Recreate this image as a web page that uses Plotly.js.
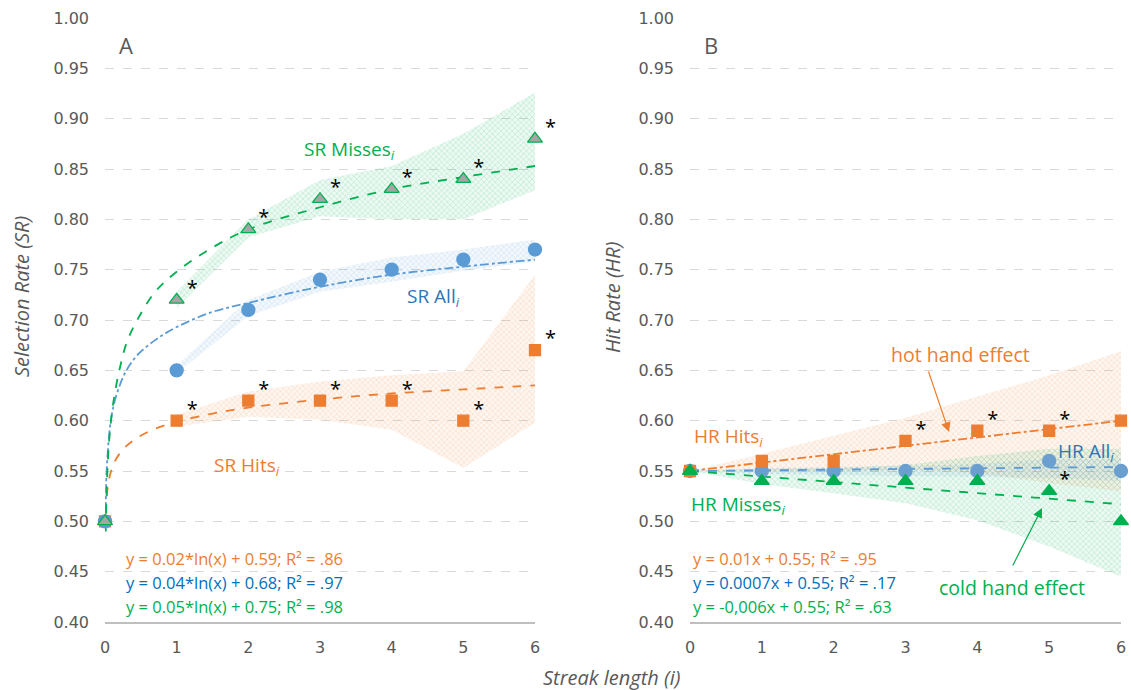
<!DOCTYPE html>
<html>
<head>
<meta charset="utf-8">
<script src="https://cdn.plot.ly/plotly-3.0.1.min.js"></script>
<style>html,body{margin:0;padding:0;background:#fff;}#chart{width:1131px;height:690px;}</style>
</head>
<body>
<div id="chart"></div>
<script>
// ---------- data ----------
const streak = [0, 1, 2, 3, 4, 5, 6];
const xTickLabels = ['0', '1', '2', '3', '4', '5', '6'];

// Panel A : selection rates
const srHits   = [0.50, 0.60, 0.62, 0.62, 0.62, 0.60, 0.67];
const srAll    = [0.50, 0.65, 0.71, 0.74, 0.75, 0.76, 0.77];
const srMisses = [0.50, 0.72, 0.79, 0.82, 0.83, 0.84, 0.88];
const sigSrHits   = [false, true, true, true, true, true, true];
const sigSrMisses = [false, true, true, true, true, true, true];

// Panel A : shaded bands (x = 1..6)
const bandXA = [1, 2, 3, 4, 5, 6];
const srHitsHi   = [0.606, 0.629, 0.639, 0.645, 0.649, 0.745];
const srHitsLo   = [0.594, 0.604, 0.601, 0.591, 0.553, 0.598];
const srAllHi    = [0.655, 0.720, 0.748, 0.762, 0.770, 0.780];
const srAllLo    = [0.647, 0.704, 0.728, 0.738, 0.749, 0.758];
const srMissesHi = [0.728, 0.800, 0.839, 0.853, 0.885, 0.926];
const srMissesLo = [0.712, 0.782, 0.803, 0.800, 0.800, 0.829];

// Panel A : logarithmic trend lines
const trendXA = [0.01, 0.02, 0.04, 0.07, 0.12, 0.2, 0.3, 0.45, 0.7, 1, 1.5, 2, 3, 4, 5, 6];
const trendSrMisses = [0.49, 0.52, 0.56, 0.59, 0.62, 0.65, 0.677, 0.70, 0.728, 0.748, 0.772, 0.79, 0.812, 0.83, 0.842, 0.853];
const trendSrAll    = [0.51, 0.545, 0.57, 0.594, 0.615, 0.634, 0.65, 0.665, 0.68, 0.693, 0.708, 0.717, 0.733, 0.745, 0.753, 0.76];
const trendSrHits   = [0.507, 0.521, 0.535, 0.546, 0.557, 0.567, 0.575, 0.583, 0.592, 0.599, 0.607, 0.613, 0.621, 0.627, 0.631, 0.635];

// Panel B : hit rates
const hrHits   = [0.55, 0.56, 0.56, 0.58, 0.59, 0.59, 0.60];
const hrAll    = [0.55, 0.55, 0.55, 0.55, 0.55, 0.56, 0.55];
const hrMisses = [0.55, 0.54, 0.54, 0.54, 0.54, 0.53, 0.50];
const sigHrHits   = [false, false, false, true, true, true, true];
const sigHrMisses = [false, false, false, false, false, true, false];

// Panel B : shaded bands (x = 0..6)
const hrHitsHi   = [0.55, 0.567, 0.585, 0.603, 0.624, 0.645, 0.669];
const hrHitsLo   = [0.55, 0.549, 0.549, 0.551, 0.548, 0.538, 0.530];
const hrAllHi    = [0.55, 0.553, 0.554, 0.555, 0.557, 0.562, 0.562];
const hrAllLo    = [0.55, 0.547, 0.546, 0.545, 0.544, 0.543, 0.540];
const hrMissesHi = [0.55, 0.552, 0.553, 0.556, 0.565, 0.572, 0.572];
const hrMissesLo = [0.55, 0.537, 0.528, 0.518, 0.501, 0.475, 0.445];

// Panel B : linear trend lines (end points)
const trendXB = [0, 6];
const trendHrHits   = [0.55, 0.600];
const trendHrAll    = [0.55, 0.554];
const trendHrMisses = [0.55, 0.517];

// ---------- styling ----------
const ORANGE = '#ED7D31', BLUE = '#5B9BD5', GREEN = '#00B050';
const TXT = '#595959';
const FONT = "'Open Sans', 'Noto Sans', sans-serif";
const TICKFONT = "'DejaVu Sans', sans-serif";
const W = 1131, H = 690;

function band(xs, hi, lo, rgb, xa, ya) {
  return {
    x: xs.concat(xs.slice().reverse()),
    y: hi.concat(lo.slice().reverse()),
    xaxis: xa, yaxis: ya,
    type: 'scatter', mode: 'lines', fill: 'toself',
    line: {width: 0, color: 'rgba(0,0,0,0)'},
    fillcolor: 'rgba(' + rgb + ',0.07)',
    fillpattern: {shape: 'x', size: 4, solidity: 0.3, fgcolor: 'rgba(' + rgb + ',0.22)', bgcolor: 'rgba(' + rgb + ',0.07)'},
    hoverinfo: 'skip'
  };
}
function trend(xs, ys, color, dash, xa, ya, spline) {
  return {x: xs, y: ys, xaxis: xa, yaxis: ya, type: 'scatter', mode: 'lines',
    line: {color: color, width: 1.8, dash: dash, shape: spline ? 'spline' : 'linear'}, hoverinfo: 'skip'};
}
function pts(ys, symbol, fill, lineColor, size, xa, ya) {
  return {x: streak, y: ys, xaxis: xa, yaxis: ya, type: 'scatter', mode: 'markers',
    marker: {symbol: symbol, size: size, color: fill, line: {color: lineColor, width: 1.3}},
    cliponaxis: false, hoverinfo: 'skip'};
}
function stars(ys, sig, xa, ya) {
  const xs = [], yv = [], tx = [];
  streak.forEach((s, i) => { if (sig[i]) { xs.push(s); yv.push(ys[i]); tx.push('\u2002*'); } });
  return {x: xs, y: yv, xaxis: xa, yaxis: ya, type: 'scatter', mode: 'text', text: tx,
    textposition: 'top right', textfont: {family: FONT, size: 20, color: '#000'},
    cliponaxis: false, hoverinfo: 'skip'};
}

const data = [
  band(bandXA, srHitsHi, srHitsLo, '237,125,49', 'x', 'y'),
  band(bandXA, srAllHi, srAllLo, '91,155,213', 'x', 'y'),
  band(bandXA, srMissesHi, srMissesLo, '0,176,80', 'x', 'y'),
  trend(trendXA, trendSrHits, ORANGE, 'dash', 'x', 'y', true),
  trend(trendXA, trendSrAll, BLUE, 'dashdot', 'x', 'y', true),
  trend(trendXA, trendSrMisses, GREEN, 'dash', 'x', 'y', true),
  pts(srHits, 'square', ORANGE, ORANGE, 11, 'x', 'y'),
  pts(srAll, 'circle', BLUE, BLUE, 13, 'x', 'y'),
  pts(srMisses, 'triangle-up', '#A5A5A5', GREEN, 13, 'x', 'y'),
  stars(srHits, sigSrHits, 'x', 'y'),
  stars(srMisses, sigSrMisses, 'x', 'y'),

  band(streak, hrHitsHi, hrHitsLo, '237,125,49', 'x2', 'y2'),
  band(streak, hrMissesHi, hrMissesLo, '0,176,80', 'x2', 'y2'),
  band(streak, hrAllHi, hrAllLo, '91,155,213', 'x2', 'y2'),
  trend(trendXB, trendHrHits, ORANGE, 'dashdot', 'x2', 'y2', false),
  trend(trendXB, trendHrAll, BLUE, 'dash', 'x2', 'y2', false),
  trend(trendXB, trendHrMisses, GREEN, 'dash', 'x2', 'y2', false),
  pts(hrAll, 'circle', '#6A9FD0', '#6A9FD0', 13, 'x2', 'y2'),
  pts(hrHits, 'square', ORANGE, ORANGE, 11, 'x2', 'y2'),
  pts(hrMisses, 'triangle-up', GREEN, GREEN, 13, 'x2', 'y2'),
  stars(hrHits, sigHrHits, 'x2', 'y2'),
  stars(hrMisses, sigHrMisses, 'x2', 'y2')
];

function xa(d0, d1, anchor) {
  return {domain: [d0 / W, d1 / W], range: [0, 6], anchor: anchor, tickmode: 'array',
    tickvals: streak, ticktext: xTickLabels, showgrid: false, zeroline: false,
    showline: true, linecolor: '#BFBFBF', linewidth: 1.6, ticks: '', ticklabelstandoff: 10,
    tickfont: {family: TICKFONT, size: 16, color: TXT}, fixedrange: true};
}
function ya(anchor) {
  return {domain: [1 - 622 / H, 1 - 18 / H], range: [0.40, 1.00], anchor: anchor, dtick: 0.05, tick0: 0.4,
    tickformat: '.2f', showgrid: true, gridcolor: '#D9D9D9', gridwidth: 1, griddash: 'dash',
    zeroline: false, showline: false, ticks: '', ticklabelstandoff: 15,
    tickfont: {family: TICKFONT, size: 16, color: TXT}, fixedrange: true};
}

function ann(text, x, y, color, size, opts) {
  return Object.assign({text: text, x: x / W, y: 1 - y / H, xref: 'paper', yref: 'paper',
    showarrow: false, xanchor: 'left', yanchor: 'middle',
    font: {family: FONT, size: size, color: color}}, opts || {});
}
const ital = (s) => ({family: FONT, size: s, color: TXT, style: 'italic'});
const sub = '<sub><i>i</i></sub>';
const annotations = [
  ann('A', 117, 45, TXT, 22),
  ann('B', 702, 45, TXT, 22),
  ann('Selection Rate (SR)', 22, 297, TXT, 20, {textangle: -90, xanchor: 'center', font: ital(20)}),
  ann('Hit Rate (HR)', 612, 298, TXT, 20, {textangle: -90, xanchor: 'center', font: ital(20)}),
  ann('Streak length (i)', 611, 677, TXT, 20, {xanchor: 'center', font: ital(20)}),
  ann('SR Misses' + sub, 302, 150, GREEN, 19),
  ann('SR All' + sub, 405, 297, '#2E75B6', 19),
  ann('SR Hits' + sub, 212, 466, ORANGE, 19),
  ann('y = 0.02*ln(x) + 0.59; R² = .86', 124, 558, ORANGE, 16.5),
  ann('y = 0.04*ln(x) + 0.68; R² = .97', 124, 582, '#0070C0', 16.5),
  ann('y = 0.05*ln(x) + 0.75; R² = .98', 124, 606, GREEN, 16.5),
  ann('hot hand effect', 960, 354, ORANGE, 19.5, {xanchor: 'center'}),
  ann('cold hand effect', 1012, 587, GREEN, 19.5, {xanchor: 'center'}),
  ann('HR Hits' + sub, 692, 437, ORANGE, 19),
  ann('HR All' + sub, 1056, 452, '#2E75B6', 19),
  ann('HR Misses' + sub, 689, 505, GREEN, 19),
  ann('y = 0.01x + 0.55; R² = .95', 691, 558, ORANGE, 16.5),
  ann('y = 0.0007x + 0.55; R² = .17', 691, 582, '#0070C0', 16.5),
  ann('y = -0,006x + 0.55; R² = .63', 691, 606, GREEN, 16.5),
  // arrows
  {x: 949 / W, y: 1 - 432 / H, xref: 'paper', yref: 'paper', text: '', showarrow: true,
   ax: -21, ay: -62, arrowhead: 2, arrowsize: 1.6, arrowwidth: 1.2, arrowcolor: ORANGE},
  {x: 1042 / W, y: 1 - 508 / H, xref: 'paper', yref: 'paper', text: '', showarrow: true,
   ax: -30, ay: 59, arrowhead: 2, arrowsize: 1.6, arrowwidth: 1.2, arrowcolor: GREEN}
];

const layout = {
  width: W, height: H, margin: {l: 0, r: 0, t: 0, b: 0},
  paper_bgcolor: '#fff', plot_bgcolor: 'rgba(0,0,0,0)', showlegend: false,
  xaxis: xa(105, 535, 'y'), yaxis: ya('x'),
  xaxis2: xa(690, 1121, 'y2'), yaxis2: ya('x2'),
  annotations: annotations
};

Plotly.newPlot('chart', data, layout, {staticPlot: true, displayModeBar: false});
</script>
</body>
</html>
